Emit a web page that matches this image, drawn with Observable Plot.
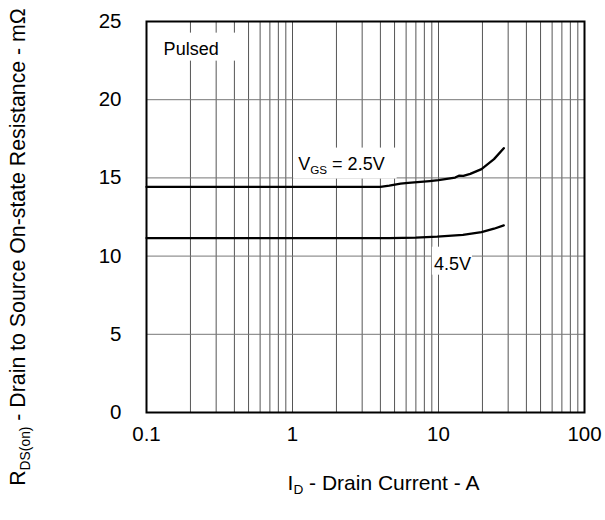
<!DOCTYPE html>
<html>
<head>
<meta charset="utf-8">
<script src="https://cdn.jsdelivr.net/npm/d3@7"></script>
<script src="https://cdn.jsdelivr.net/npm/@observablehq/plot@0.6"></script>
<style>
  html, body { margin: 0; padding: 0; background: white; }
</style>
</head>
<body>
<div id="chart"></div>
<script>
// ---- data ----
const xTicks = [0.1, 1, 10, 100];
const yTicks = [0, 5, 10, 15, 20, 25];
const gridX = [0.2, 0.3, 0.4, 0.5, 0.6, 0.7, 0.8, 0.9, 1, 2, 3, 4, 5, 6, 7, 8, 9, 10, 20, 30, 40, 50, 60, 70, 80, 90];
const gridY = [5, 10, 15, 20];

// VGS = 2.5V curve
const id25 = [0.1, 1, 4.0, 4.6, 5.5, 6.2, 8.7, 10, 13.0, 13.8, 14.8, 16.5, 19.7, 24, 28];
const r25  = [14.42, 14.42, 14.42, 14.5, 14.63, 14.68, 14.8, 14.86, 15.02, 15.14, 15.13, 15.26, 15.56, 16.2, 16.9];
// VGS = 4.5V curve
const id45 = [0.1, 1, 4.6, 7.0, 9.8, 14.7, 19.7, 24, 28];
const r45  = [11.15, 11.15, 11.15, 11.18, 11.24, 11.36, 11.53, 11.75, 11.96];

// annotations: [main, subscript, rest], anchor in data units
const annoText = [["Pulsed", "", ""], ["V", "GS", " = 2.5V"], ["4.5V", "", ""]];
const annoX = [0.131, 1.094, 9.3];
const annoY = [23.25, 15.9, 9.5];

const xTitleParts = ["I", "D", " - Drain Current - A"];
const yTitleParts = ["R", "DS(on)", " - Drain to Source On-state Resistance - mΩ"];

// ---- build tables ----
const s25 = id25.map((x, i) => ({x, y: r25[i]}));
const s45 = id45.map((x, i) => ({x, y: r45[i]}));
const annos = annoText.map((t, i) => ({t, x: annoX[i], y: annoY[i]}));
const join = p => p.join("");

const FONT = "'Liberation Sans', Arial, Helvetica, sans-serif";

const chart = Plot.plot({
  width: 605,
  height: 520,
  marginLeft: 146,
  marginRight: 21,
  marginTop: 21,
  marginBottom: 108,
  x: {type: "log", domain: [0.1, 100], label: null},
  y: {domain: [0, 25], label: null},
  style: {fontFamily: FONT, fontSize: "20px", background: "white", color: "black", overflow: "visible"},
  marks: [
    Plot.ruleX(gridX, {stroke: "#555", strokeWidth: 1}),
    Plot.ruleY(gridY, {stroke: "#777", strokeWidth: 1}),
    Plot.line(s25, {x: "x", y: "y", stroke: "black", strokeWidth: 2.3}),
    Plot.line(s45, {x: "x", y: "y", stroke: "black", strokeWidth: 2.3}),
    Plot.text(annos, {x: "x", y: "y", text: d => join(d.t), textAnchor: "start", lineAnchor: "middle", fontSize: 18, fill: "black"}),
    Plot.axisX(xTicks, {tickSize: 0, tickPadding: 14, tickFormat: d => String(d), label: null, fontSize: 20.5}),
    Plot.axisY(yTicks, {tickSize: 0, tickPadding: 25, tickFormat: d => String(d), label: null, fontSize: 20.5}),
    Plot.text([join(xTitleParts)], {frameAnchor: "bottom", textAnchor: "middle", dx: 18, dy: 77, fontSize: 21}),
    Plot.text([join(yTitleParts)], {frameAnchor: "left", textAnchor: "middle", rotate: -90, dx: -128, dy: 30, fontSize: 21.3}),
    Plot.frame({stroke: "black", strokeWidth: 2})
  ]
});

document.getElementById("chart").appendChild(chart);

// ---- post-process: subscripts and white label boxes ----
const NS = "http://www.w3.org/2000/svg";
function subscriptify(el, parts, size) {
  const [a, b, c] = parts;
  if (!b) return;
  while (el.firstChild) el.removeChild(el.firstChild);
  const shift = size * 0.22;
  const t1 = document.createElementNS(NS, "tspan"); t1.textContent = a;
  const t2 = document.createElementNS(NS, "tspan"); t2.textContent = b;
  t2.setAttribute("font-size", (size * 0.65) + "px"); t2.setAttribute("dy", shift);
  const t3 = document.createElementNS(NS, "tspan"); t3.textContent = c;
  t3.setAttribute("dy", -shift);
  el.append(t1, t2, t3);
}
const pads = [[6, 23, 2, 17], [6, 12, 3, 5], [7, 1, 1, 2]]; // top right bottom left
const texts = Array.from(chart.querySelectorAll("text"));
texts.forEach(el => {
  const s = el.textContent;
  if (s === join(xTitleParts)) subscriptify(el, xTitleParts, 21);
  if (s === join(yTitleParts)) subscriptify(el, yTitleParts, 21.3);
  annos.forEach((a, i) => {
    if (s === join(a.t)) {
      subscriptify(el, a.t, 18);
      const bb = el.getBBox();
      const [pt, pr, pb, pl] = pads[i];
      const r = document.createElementNS(NS, "rect");
      r.setAttribute("x", bb.x - pl);
      r.setAttribute("y", bb.y - pt);
      r.setAttribute("width", bb.width + pl + pr);
      r.setAttribute("height", bb.height + pt + pb);
      r.setAttribute("fill", "white");
      if (el.getAttribute("transform")) r.setAttribute("transform", el.getAttribute("transform"));
      el.parentNode.insertBefore(r, el);
    }
  });
});
</script>
</body>
</html>
